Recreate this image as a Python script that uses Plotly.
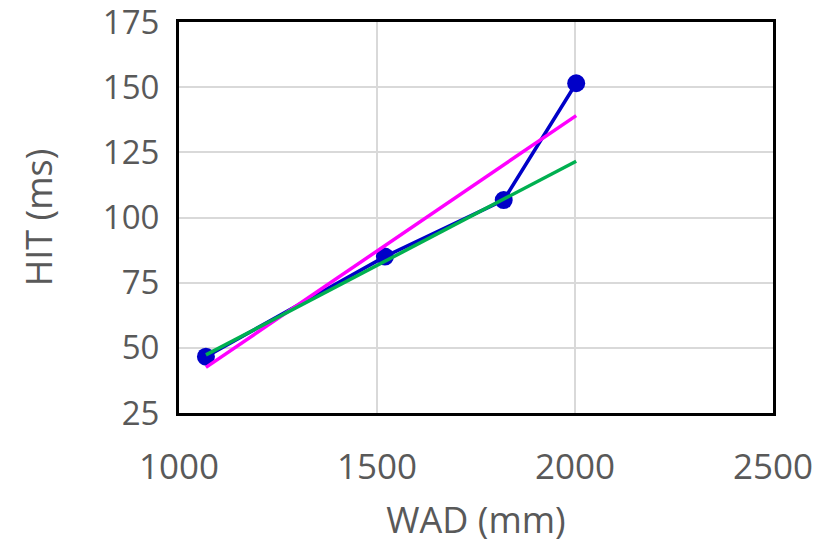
import plotly.graph_objects as go

# Measured data
wad = [1068, 1520, 1820, 2003]
hit = [46.6, 85.0, 106.7, 151.5]

# Trend lines (endpoints)
trend_all_x = [1068, 2003]
trend_all_y = [42.5, 139.1]
trend_first3_x = [1068, 2003]
trend_first3_y = [47.3, 121.6]

x_ticks = [1000, 1500, 2000, 2500]
y_ticks = [25, 50, 75, 100, 125, 150, 175]

FONT = "Open Sans"
GRAY = "#595959"

fig = go.Figure()
fig.add_trace(go.Scatter(
    x=wad, y=hit, mode="lines+markers",
    line=dict(color="#0000C8", width=3.5),
    marker=dict(color="#0000C8", size=18),
    showlegend=False))
fig.add_trace(go.Scatter(
    x=trend_all_x, y=trend_all_y, mode="lines",
    line=dict(color="#FF00FF", width=3.5), showlegend=False))
fig.add_trace(go.Scatter(
    x=trend_first3_x, y=trend_first3_y, mode="lines",
    line=dict(color="#00B050", width=3.5), showlegend=False))

fig.update_layout(
    width=827, height=552,
    margin=dict(l=179, r=54, t=22, b=139, autoexpand=False),
    paper_bgcolor="white", plot_bgcolor="white",
    font=dict(family=FONT, size=35, color=GRAY),
)
fig.update_xaxes(
    range=[1000, 2500], tickvals=x_ticks, ticktext=[str(v) for v in x_ticks],
    tickfont=dict(size=35),
    showgrid=True, gridcolor="#D9D9D9", gridwidth=2,
    showline=True, linecolor="black", linewidth=3, mirror=True,
    zeroline=False, ticks="", ticklabelstandoff=21, ticklabeloverflow="allow",
    automargin=False,
    title=dict(text="WAD (mm)", font=dict(family=FONT, size=36, color=GRAY), standoff=20),
)
fig.update_yaxes(
    range=[25, 175], tickvals=y_ticks, ticktext=[str(v) for v in y_ticks],
    tickfont=dict(size=33),
    showgrid=True, gridcolor="#D9D9D9", gridwidth=2,
    showline=True, linecolor="black", linewidth=3, mirror=True,
    zeroline=False, ticks="", ticklabelstandoff=10, ticklabeloverflow="allow",
    automargin=False,
    title=dict(text="HIT (ms)", font=dict(family=FONT, size=36, color=GRAY), standoff=40),
)

fig.write_html("out.html")
